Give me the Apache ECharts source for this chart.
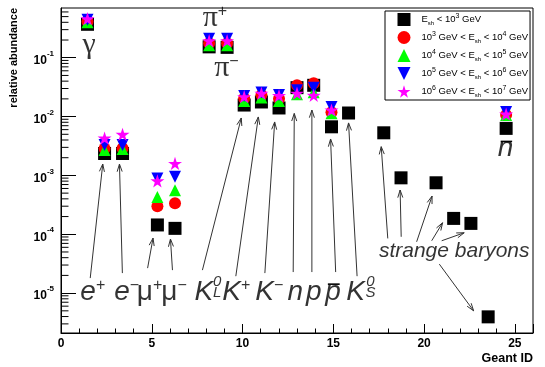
<!DOCTYPE html>
<html>
<head>
<meta charset="utf-8">
<script src="https://cdn.jsdelivr.net/npm/echarts@6/dist/echarts.min.js"></script>
<style>
  html, body { margin: 0; background: #fff; }
  #chart { width: 545px; height: 367px; }
</style>
</head>
<body>
<div id="chart"></div>
<script>
// marker x positions (Geant ID axis), one per particle
const particles = ['gamma', 'e+', 'e-', 'mu+', 'mu-', 'pi+', 'pi-', 'K0L', 'K+', 'K-', 'n', 'p', 'pbar', 'K0S',
  'Lambda', 'Sigma+', 'Sigma-', 'Xi0', 'Xi-', 'Omega-', 'nbar'];
const geantX = [1.46, 2.40, 3.39, 5.31, 6.28, 8.16, 9.15, 10.09, 11.04, 12.01, 13.00, 13.92, 14.90, 15.84,
  17.78, 18.73, 20.66, 21.63, 22.58, 23.53, 24.52];

// relative abundance per shower energy bin
const eBelow3 = [0.37, 2.36e-3, 2.36e-3, 1.44e-4, 1.26e-4, 0.153, 0.150, 0.0157, 0.0177, 0.0140, 0.031, 0.034, 6.7e-3, 0.0115,
  5.3e-3, 9.1e-4, 7.5e-4, 1.86e-4, 1.53e-4, 3.95e-6, 6.3e-3];
const e3to4 = [0.41, 2.88e-3, 2.9e-3, 3.0e-4, 3.36e-4, 0.177, 0.177, 0.0205, 0.0233, 0.020, 0.034, 0.037, 0.0118, null,
  null, null, null, null, null, null, 0.0106];
const e4to5 = [0.40, 2.7e-3, 2.8e-3, 4.3e-4, 5.6e-4, 0.163, 0.163, 0.0184, 0.021, 0.0184, 0.024, 0.026, 0.0114, null,
  null, null, null, null, null, null, 0.0106];
const e5to6 = [0.44, 3.3e-3, 3.3e-3, 8.9e-4, 9.5e-4, 0.21, 0.21, 0.0224, 0.0257, 0.0233, 0.028, 0.031, 0.0146, null,
  null, null, null, null, null, null, 0.012];
const e6to7 = [0.46, 4.3e-3, 5.0e-3, 8.1e-4, 1.6e-3, 0.195, 0.195, 0.0218, 0.0249, 0.0227, 0.025, 0.023, 0.0129, null,
  null, null, null, null, null, null, 0.011];

const seriesNames = ['E<1e3', '1e3<E<1e4', '1e4<E<1e5', '1e5<E<1e6', '1e6<E<1e7'];
const legendTexts = [
  '{w| }{a|E}{b|sh}{a| < 10}{c|3}{a| GeV}',
  '{w| }{a|10}{c|3}{a| GeV < E}{b|sh}{a| < 10}{c|4}{a| GeV}',
  '{w| }{a|10}{c|4}{a| GeV < E}{b|sh}{a| < 10}{c|5}{a| GeV}',
  '{w| }{a|10}{c|5}{a| GeV < E}{b|sh}{a| < 10}{c|6}{a| GeV}',
  '{w| }{a|10}{c|6}{a| GeV < E}{b|sh}{a| < 10}{c|7}{a| GeV}'
];

// text annotations (data coordinates)
const annoText = ['{g|γ}', '{g|π}{sp|+}', '{g|π}{sp|−}', '{m|e}{sp|+}', '{m|e}{sp|−}', '{u|μ}{sp|+}', '{u|μ}{sp|−}',
  '{m|K}', '{sc|0}\n{sc|L}', '{m|K}{sp|+}', '{m|K}{sp|−}', '{m|n}', '{m|p}', '{m|p}', '{m|K}', '{sc|0}\n{sc|S}',
  '{m|n}', '{sb|strange baryons}'];
const annoX = [1.55, 8.48, 9.11, 1.75, 3.62, 4.88, 6.23, 7.87, 8.6, 9.66, 11.47, 12.9, 13.92, 14.99, 16.23, 17.05, 24.49, 21.66];
const annoY = [0.162, 0.466, 0.0657, 1.03e-5, 1.03e-5, 1.03e-5, 1.03e-5, 1.03e-5, 1.26e-5, 1.03e-5, 1.03e-5, 1.03e-5,
  1.03e-5, 1.03e-5, 1.03e-5, 1.26e-5, 2.89e-3, 5.18e-5];

// bars over p and n (antiparticles): [x1, x2, y]
const overBars = [
  [14.70, 15.35, 1.42e-5],
  [24.22, 24.85, 3.78e-3]
];

// arrows: [x1, y1, x2, y2], tail at the label, head at the marker
const arrows = [
  [1.61, 1.8e-5, 2.30, 1.56e-3],
  [3.38, 2.19e-5, 3.22, 1.56e-3],
  [4.77, 2.66e-5, 5.07, 8.6e-5],
  [6.14, 2.46e-5, 6.03, 8.3e-5],
  [7.79, 2.46e-5, 9.93, 9.46e-3],
  [9.63, 1.94e-5, 10.87, 9.85e-3],
  [11.23, 2.19e-5, 11.77, 8.1e-3],
  [12.79, 2.28e-5, 12.85, 0.0113],
  [13.82, 2.28e-5, 13.82, 0.0129],
  [15.13, 2.28e-5, 14.85, 4.16e-3],
  [16.31, 1.94e-5, 15.84, 7.8e-3],
  [18.0, 8.5e-5, 17.64, 3.08e-3],
  [18.74, 9.06e-5, 18.68, 5.65e-4],
  [19.59, 7.45e-5, 20.44, 4.46e-4],
  [20.42, 7.76e-5, 21.02, 1.57e-4],
  [20.97, 7.76e-5, 22.21, 1.06e-4],
  [20.84, 3.11e-5, 22.73, 5.0e-6]
];

// log axis minor ticks: 2..9 in each decade
const decades = [1e-6, 1e-5, 1e-4, 1e-3, 1e-2, 1e-1];
const minorSteps = [2, 3, 4, 5, 6, 7, 8, 9];

const yMin = 2.1e-6, yMax = 0.70;
const font = 'Liberation Sans';

const minorTicks = [];
decades.forEach(d => minorSteps.forEach(k => {
  const v = k * d;
  if (v > yMin && v < yMax) minorTicks.push([0, v]);
}));

function pairs(vals) {
  return geantX.map((x, i) => vals[i] == null ? null : [x, vals[i]]).filter(Boolean);
}

const downTri = 'path://M0,0 L10,0 L5,10 Z';
const star = 'path://M50,0 L61,35 L98,35 L68,57 L79,91 L50,70 L21,91 L32,57 L2,35 L39,35 Z';

const markerSeries = [
  { data: eBelow3, symbol: 'rect', size: 13, color: '#000000' },
  { data: e3to4, symbol: 'circle', size: 12, color: '#ff0000' },
  { data: e4to5, symbol: 'triangle', size: 12, color: '#00ff00' },
  { data: e5to6, symbol: downTri, size: 12, color: '#0000ff' },
  { data: e6to7, symbol: star, size: 14, color: '#ff00ff' }
].map((s, i) => ({
  name: seriesNames[i],
  type: 'scatter',
  symbol: s.symbol,
  symbolSize: s.size,
  symbolKeepAspect: true,
  itemStyle: { color: s.color, opacity: 1 },
  data: pairs(s.data),
  z: 5 + i,
  silent: true
}));

const chart = echarts.init(document.getElementById('chart'), null, { renderer: 'canvas' });

const option = {
  animation: false,
  backgroundColor: '#fff',
  textStyle: { fontFamily: font },
  grid: { left: 61, right: 12, top: 8, bottom: 34, show: true, borderColor: '#000', borderWidth: 1, containLabel: false },
  legend: {
    data: seriesNames,
    orient: 'vertical',
    left: 385,
    top: 11,
    itemWidth: 13,
    itemHeight: 13,
    itemGap: 5,
    padding: [2, 2, 2, 12.5],
    borderColor: '#000',
    borderWidth: 1,
    backgroundColor: '#fff',
    selectedMode: false,
    formatter: name => legendTexts[seriesNames.indexOf(name)],
    textStyle: {
      color: '#000',
      fontSize: 9.5,
      rich: {
        w: { width: 6, fontSize: 9.5, lineHeight: 13 },
        a: { fontSize: 9.5, fontFamily: font, color: '#000', lineHeight: 13 },
        b: { fontSize: 6, fontFamily: font, color: '#000', verticalAlign: 'bottom', lineHeight: 8 },
        c: { fontSize: 7, fontFamily: font, color: '#000', verticalAlign: 'top', lineHeight: 8 }
      }
    }
  },
  xAxis: {
    type: 'value',
    min: 0,
    max: 26,
    interval: 5,
    name: 'Geant ID',
    nameLocation: 'end',
    nameGap: 0,
    nameTextStyle: { align: 'right', verticalAlign: 'top', padding: [19, 0, 0, 0], fontWeight: 'bold', fontSize: 12.5, color: '#000' },
    axisLine: { show: true, onZero: false, lineStyle: { color: '#000', width: 1 } },
    axisTick: { inside: true, length: 9, lineStyle: { color: '#000' } },
    minorTick: { show: true, splitNumber: 5, length: 4.5, lineStyle: { color: '#000' } },
    splitLine: { show: false },
    axisLabel: { color: '#000', fontWeight: 'bold', fontSize: 12, margin: 5, showMaxLabel: false }
  },
  yAxis: {
    type: 'log',
    logBase: 10,
    min: yMin,
    max: yMax,
    axisLine: { show: true, lineStyle: { color: '#000', width: 1 } },
    axisTick: { inside: true, length: 15, lineStyle: { color: '#000' } },
    splitLine: { show: false },
    axisLabel: {
      margin: 7,
      showMinLabel: false,
      showMaxLabel: false,
      formatter: v => {
        const e = Math.log10(v);
        if (Math.abs(e - Math.round(e)) > 1e-6) return '';
        return '{b|10}{s|' + Math.round(e) + '}';
      },
      rich: {
        b: { fontSize: 12, fontWeight: 'bold', fontFamily: font, color: '#000', lineHeight: 16, padding: [6, 0, 0, 0] },
        s: { fontSize: 8, fontWeight: 'bold', fontFamily: font, color: '#000', verticalAlign: 'top', lineHeight: 10 }
      }
    }
  },
  graphic: [{
    type: 'text',
    x: 14,
    y: 8,
    rotation: Math.PI / 2,
    style: { text: 'relative abundance', font: 'bold 11px "Liberation Sans"', fill: '#000', align: 'right', verticalAlign: 'middle' }
  }],
  series: [
    {
      name: 'minorTicks',
      type: 'custom',
      silent: true,
      z: 1,
      data: minorTicks,
      renderItem: (params, api) => {
        const p = api.coord([api.value(0), api.value(1)]);
        return { type: 'line', shape: { x1: p[0], y1: p[1], x2: p[0] + 7.5, y2: p[1] }, style: { stroke: '#000', lineWidth: 1 } };
      }
    },
    {
      name: 'arrows',
      type: 'custom',
      silent: true,
      z: 2,
      encode: { x: [0, 2], y: [1, 3] },
      data: arrows,
      renderItem: (params, api) => {
        const a = api.coord([api.value(0), api.value(1)]);
        const b = api.coord([api.value(2), api.value(3)]);
        const ang = Math.atan2(b[1] - a[1], b[0] - a[0]);
        const h = 8, w = 0.32;
        const l1 = [b[0] - h * Math.cos(ang - w), b[1] - h * Math.sin(ang - w)];
        const l2 = [b[0] - h * Math.cos(ang + w), b[1] - h * Math.sin(ang + w)];
        return {
          type: 'group',
          children: [
            { type: 'line', shape: { x1: a[0], y1: a[1], x2: b[0], y2: b[1] }, style: { stroke: '#333', lineWidth: 1 } },
            { type: 'polyline', shape: { points: [l1, b, l2] }, style: { stroke: '#333', fill: null, lineWidth: 1 } }
          ]
        };
      }
    },
    {
      name: 'overBars',
      type: 'custom',
      silent: true,
      z: 20,
      encode: { x: [0, 1], y: 2 },
      data: overBars,
      renderItem: (params, api) => {
        const a = api.coord([api.value(0), api.value(2)]);
        const b = api.coord([api.value(1), api.value(2)]);
        return { type: 'line', shape: { x1: a[0], y1: a[1], x2: b[0], y2: b[1] }, style: { stroke: '#000', lineWidth: 1.6 } };
      }
    },
    ...markerSeries,
    {
      name: 'labels',
      type: 'scatter',
      silent: true,
      z: 20,
      symbolSize: 1,
      itemStyle: { color: 'rgba(0,0,0,0)' },
      data: annoX.map((x, i) => [x, annoY[i]]),
      label: {
        show: true,
        position: 'inside',
        color: '#000',
        formatter: p => annoText[p.dataIndex],
        rich: {
          m: { fontSize: 28, fontStyle: 'italic', fontFamily: font, color: '#000', lineHeight: 30 },
          u: { fontSize: 28, fontFamily: font, color: '#000', lineHeight: 30 },
          g: { fontSize: 30, fontFamily: 'Liberation Serif', color: '#000', lineHeight: 30 },
          sp: { fontSize: 16, fontFamily: font, color: '#000', verticalAlign: 'top', lineHeight: 16 },
          sc: { fontSize: 15, fontStyle: 'italic', fontFamily: font, color: '#000', lineHeight: 11 },
          sb: { fontSize: 21, fontStyle: 'italic', fontFamily: font, color: '#000', lineHeight: 24 }
        }
      }
    }
  ]
};

chart.setOption(option);
</script>
</body>
</html>
